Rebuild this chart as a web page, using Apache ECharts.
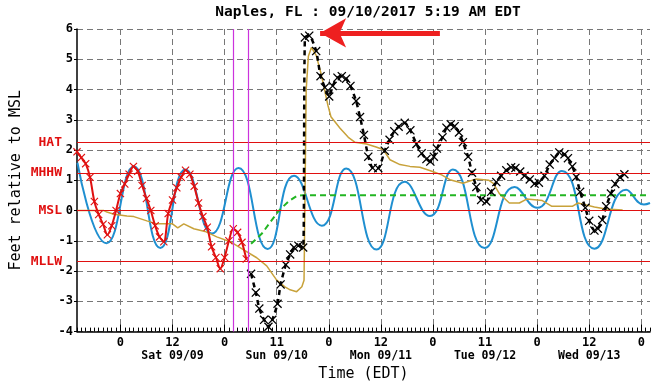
<!DOCTYPE html>
<html>
<head>
<meta charset="utf-8">
<script src="https://cdn.jsdelivr.net/npm/echarts@6/dist/echarts.min.js"></script>
<style>
html, body { margin: 0; padding: 0; background: #fff; }
#chart { width: 660px; height: 387px; }
</style>
</head>
<body>
<div id="chart"></div>
<script>
// hours from Sat 09/09 00:00 EDT
var hourTicks = [0, 12, 24, 36, 48, 60, 72, 84, 96, 108, 120];
var hourLabels = ['0', '12', '0', '11', '0', '12', '0', '11', '0', '12', '0'];
var dayLabels = ['', 'Sat 09/09', '', 'Sun 09/10', '', 'Mon 09/11', '', 'Tue 09/12', '', 'Wed 09/13', ''];

var datums = [['HAT', 2.26], ['MHHW', 1.24], ['MSL', 0], ['MLLW', -1.69]];
var markerHours = [26.05, 29.5];
var arrowPts = [[73.6, 5.87], [46.0, 5.87]];

var predicted = [
  [-9.9, 1.58], [-3.2, -1.08], [3.1, 1.46], [9.2, -1.24], [15.0, 1.36], [21.1, -0.76],
  [27.2, 1.41], [33.9, -1.27], [40.0, 1.15], [46.4, -0.5], [52.0, 1.39], [59.0, -1.29],
  [65.5, 0.95], [71.3, -0.18], [76.6, 1.36], [83.9, -1.24], [90.8, 0.78], [96.0, 0.09],
  [101.7, 1.31], [109.2, -1.26], [116.5, 0.69], [120.6, 0.2], [122, 0.25]
];

var observedRed = [
  [-10, 1.94], [-9, 1.75], [-8, 1.55], [-7, 1.1], [-6, 0.3], [-5, -0.13], [-4, -0.45],
  [-3, -0.8], [-2, -0.5], [-1, 0.0], [0, 0.56], [1, 0.88], [2, 1.2], [3, 1.46], [4, 1.3],
  [5, 0.83], [6, 0.4], [7, 0.0], [8, -0.5], [9, -0.87], [10, -1.03], [11, -0.1], [12, 0.35],
  [13, 0.75], [14, 1.1], [15, 1.33], [16, 1.2], [17, 0.8], [18, 0.25], [19, -0.2], [20, -0.55],
  [21, -1.2], [22, -1.55], [23, -1.92], [24, -1.55], [25, -1.0], [26, -0.6], [27, -0.72],
  [28, -1.05], [29, -1.6]
];

var observedBlack = [
  [30.1, -2.09], [31.2, -2.71], [32.0, -3.24], [33.1, -3.61], [34.1, -3.84], [35.0, -3.61],
  [36.2, -3.08], [36.9, -2.44], [38.1, -1.79], [39.1, -1.45], [40.0, -1.22], [41.0, -1.16],
  [42.1, -1.22], [42.5, 5.72], [43.5, 5.78], [45.1, 5.27], [46.1, 4.44], [47.1, 4.07],
  [48.1, 3.77], [48.9, 4.12], [50.0, 4.39], [51.0, 4.44], [52.0, 4.36], [53.0, 4.12],
  [54.3, 3.62], [55.2, 3.09], [56.1, 2.5], [57.1, 1.78], [58.1, 1.41], [59.4, 1.4],
  [60.9, 1.98], [62.0, 2.34], [63.1, 2.62], [64.1, 2.77], [65.5, 2.9], [66.8, 2.65],
  [68.2, 2.2], [69.4, 1.89], [70.5, 1.7], [71.4, 1.62], [72.2, 1.78], [72.9, 2.05],
  [74.2, 2.42], [75.1, 2.74], [76.1, 2.85], [77.0, 2.79], [78.0, 2.58], [78.9, 2.26],
  [80.1, 1.78], [81.0, 1.25], [82.0, 0.78], [83.1, 0.35], [84.3, 0.3], [85.4, 0.62],
  [86.6, 0.94], [87.7, 1.15], [88.9, 1.33], [90.0, 1.43], [91.0, 1.41], [92.1, 1.29],
  [93.1, 1.15], [94.3, 1.03], [95.4, 0.89], [96.4, 0.92], [97.7, 1.15], [98.9, 1.52],
  [100.0, 1.73], [101.1, 1.92], [102.3, 1.86], [103.1, 1.73], [104.1, 1.46], [105.0, 1.11],
  [105.9, 0.62], [107.1, 0.09], [108.0, -0.34], [109.2, -0.66], [110.0, -0.6], [111.0, -0.31],
  [111.9, 0.14], [113.0, 0.56], [114.0, 0.88], [115.1, 1.1], [116.1, 1.2]
];

var surge = [
  [-9.9, 0.0], [-3.8, 0.0], [-3.1, -0.05], [-1.5, -0.12], [1.5, -0.18], [3.1, -0.2],
  [6.1, -0.34], [8.3, -0.44], [12.0, -0.44], [13.2, -0.57], [14.6, -0.44], [16.9, -0.6],
  [19.5, -0.69], [22.2, -0.87], [25.3, -1.03], [28.3, -1.29], [31.4, -1.56], [33.7, -1.83],
  [36.0, -2.3], [37.9, -2.52], [39.1, -2.62], [40.6, -2.68], [41.8, -2.52], [42.3, -2.3],
  [42.8, 4.0], [43.3, 5.1], [44.0, 5.39], [45.1, 5.13], [46.2, 4.54], [47.0, 4.01],
  [47.8, 3.48], [48.5, 3.1], [50.6, 2.72], [52.5, 2.42], [54.0, 2.26], [56.7, 2.2],
  [58.9, 2.1], [60.5, 2.02], [62.1, 1.68], [64.4, 1.52], [66.7, 1.46], [69.0, 1.43],
  [72.1, 1.28], [74.0, 1.18], [75.9, 1.02], [78.9, 0.9], [81.9, 1.04], [84.9, 1.0],
  [85.9, 0.9], [87.3, 0.56], [89.6, 0.25], [91.9, 0.25], [93.6, 0.38], [97.2, 0.33],
  [99.4, 0.14], [104.1, 0.14], [105.4, 0.25], [109.2, 0.12], [111.8, 0.05], [115.7, 0.02]
];

var offsetLine = [
  [30.1, -1.1], [32.6, -0.76], [34.5, -0.39], [36.4, -0.02], [38.7, 0.3], [40.6, 0.48],
  [42.1, 0.51], [122, 0.51]
];

var mono = 'DejaVu Sans Mono';
var xMark = 'path://M0,1L1,0L5,4L9,0L10,1L6,5L10,9L9,10L5,6L1,10L0,9L4,5Z';

var myChart = echarts.init(document.getElementById('chart'));

var option = {
    animation: false,
    title: {
        text: 'Naples, FL : 09/10/2017 5:19 AM EDT',
        left: 363, top: 0, textAlign: 'center',
        textStyle: { fontFamily: mono, fontSize: 14.5, fontWeight: 'bold', color: '#000' }
    },
    grid: { left: 77, right: 10, top: 29, bottom: 44 },
    xAxis: [
        {
            type: 'value', min: -10, max: 122,
            name: 'Time (EDT)', nameLocation: 'middle', nameGap: 29,
            nameTextStyle: { fontFamily: mono, fontSize: 15, color: '#000' },
            axisLine: { onZero: false, lineStyle: { color: '#000', width: 1.5 } },
            axisTick: { customValues: hourTicks, inside: true, length: 7, lineStyle: { color: '#000' } },
            axisLabel: {
                customValues: hourTicks, margin: 5,
                formatter: function (v) {
                    var i = hourTicks.indexOf(v);
                    if (i < 0) return '';
                    return dayLabels[i] ? '{h|' + hourLabels[i] + '}\n{d|' + dayLabels[i] + '}' : '{h|' + hourLabels[i] + '}';
                },
                rich: {
                    h: { fontFamily: mono, fontSize: 12, fontWeight: 'bold', color: '#000', lineHeight: 13 },
                    d: { fontFamily: mono, fontSize: 11.5, fontWeight: 'bold', color: '#000', lineHeight: 13 }
                }
            },
            splitLine: { show: true, lineStyle: { color: '#777', type: [6, 4], width: 1 } }
        },
        {
            type: 'value', min: -10, max: 122, interval: 1, position: 'bottom',
            axisLine: { show: false, onZero: false },
            axisTick: { inside: true, length: 4, lineStyle: { color: '#000' } },
            axisLabel: { show: false },
            splitLine: { show: false }
        }
    ],
    yAxis: {
        type: 'value', min: -4, max: 6, interval: 1,
        name: 'Feet relative to MSL', nameLocation: 'middle', nameGap: 53,
        nameTextStyle: { fontFamily: mono, fontSize: 15, color: '#000' },
        axisLine: { onZero: false, lineStyle: { color: '#000', width: 1.5 } },
        axisTick: { show: true, length: 3, lineStyle: { color: '#000' } },
        axisLabel: { fontFamily: mono, fontSize: 12, fontWeight: 'bold', color: '#000', margin: 4 },
        splitLine: { show: true, lineStyle: { color: '#777', type: [6, 4], width: 1 } }
    },
    series: [
        {
            name: 'Datums', type: 'line', data: [], silent: true,
            markLine: {
                silent: true, symbol: 'none', animation: false,
                lineStyle: { color: '#e01010', width: 1.2, type: 'solid' },
                label: {
                    position: 'start', distance: 15, formatter: '{b}',
                    fontFamily: mono, fontSize: 13, fontWeight: 'bold', color: '#e01010'
                },
                data: datums.map(function (d) { return { name: d[0], yAxis: d[1] }; })
            }
        },
        {
            name: 'Predicted', type: 'line', data: predicted, smooth: 0.5, showSymbol: false,
            lineStyle: { color: '#1f8fd0', width: 2 }
        },
        {
            name: 'Surge', type: 'line', data: surge, showSymbol: false,
            lineStyle: { color: '#c8a23a', width: 1.5 }
        },
        {
            name: 'Offset', type: 'line', data: offsetLine, showSymbol: false,
            lineStyle: { color: '#22b522', width: 2, type: [6, 4] }
        },
        {
            name: 'Observed (prelim)', type: 'line', data: observedRed, smooth: 0.3,
            symbol: xMark, symbolSize: 8,
            itemStyle: { color: '#e01010' },
            lineStyle: { color: '#e01010', width: 2 }
        },
        {
            name: 'Observed', type: 'line', data: observedBlack, smooth: 0.2,
            symbol: xMark, symbolSize: 9,
            itemStyle: { color: '#000' },
            lineStyle: { color: '#000', width: 2.5, type: [5, 4] }
        },
        {
            name: 'Markers', type: 'line', data: [], silent: true,
            markLine: {
                silent: true, symbol: 'none', animation: false, label: { show: false },
                lineStyle: { color: '#cc33dd', width: 1.2, type: 'solid' },
                data: markerHours.map(function (h) { return { xAxis: h }; })
            }
        },
        {
            name: 'Arrow', type: 'line', data: [], silent: true,
            markLine: {
                silent: true, animation: false, label: { show: false },
                symbol: ['none', 'arrow'], symbolSize: [22, 26],
                lineStyle: { color: '#ee2020', width: 5, type: 'solid' },
                data: [[{ coord: arrowPts[0] }, { coord: arrowPts[1] }]]
            }
        }
    ]
};

myChart.setOption(option);
window.addEventListener('resize', function () {
    myChart.resize();
});
</script>
</body>
</html>
